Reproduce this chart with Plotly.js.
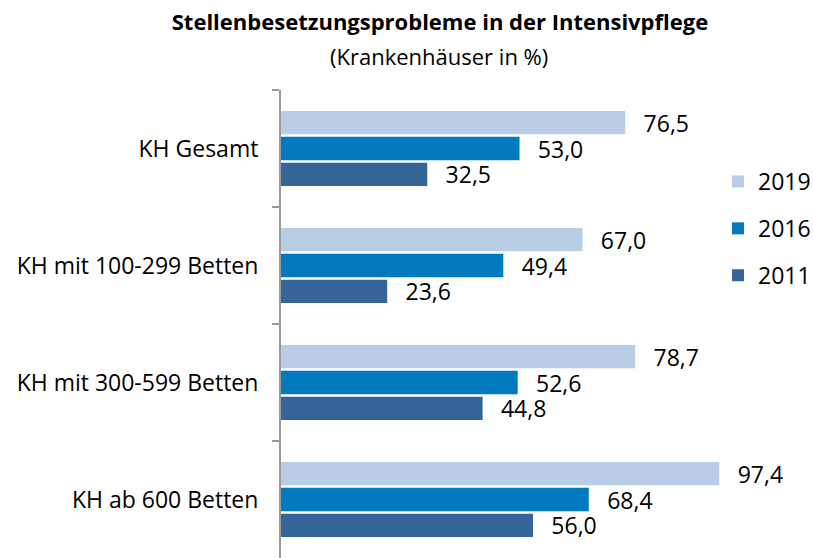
<!DOCTYPE html>
<html>
<head>
<meta charset="utf-8">
<script src="https://cdn.plot.ly/plotly-3.0.1.min.js"></script>
<style>
  html, body { margin: 0; padding: 0; background: #ffffff; }
  #chart { width: 814px; height: 558px; }
</style>
</head>
<body>
<div id="chart"></div>
<script>
// Stellenbesetzungsprobleme in der Intensivpflege (Krankenhäuser in %)
const categories = ['KH Gesamt', 'KH mit 100-299 Betten', 'KH mit 300-599 Betten', 'KH ab 600 Betten'];
const years = ['2019', '2016', '2011'];
const values2019 = [76.5, 67.0, 78.7, 97.4];
const values2016 = [53.0, 49.4, 52.6, 68.4];
const values2011 = [32.5, 23.6, 44.8, 56.0];
const colors = ['#B9CDE5', '#0079BF', '#356596'];

const font = 'Open Sans, Liberation Sans, sans-serif';

function barTrace(name, values, color) {
    return {
        type: 'bar',
        orientation: 'h',
        name: name,
        legendgroup: name,
        x: values,
        y: categories,
        marker: { color: color, line: { width: 0 } },
        texttemplate: '\u2002\u2009%{x:.1f}',
        textposition: 'outside',
        outsidetextfont: { family: font, size: 23, color: '#000000' },
        constraintext: 'none',
        cliponaxis: false,
        hoverinfo: 'x+name'
    };
}

const data = [
    barTrace(years[0], values2019, colors[0]),
    barTrace(years[1], values2016, colors[1]),
    barTrace(years[2], values2011, colors[2])
];

const layout = {
    width: 814,
    height: 558,
    margin: { l: 281, r: 83, t: 90, b: 0, autoexpand: false },
    paper_bgcolor: '#ffffff',
    plot_bgcolor: '#ffffff',
    separators: ',.',
    font: { family: font, size: 23, color: '#000000' },
    barmode: 'group',
    bargap: 0.335,
    bargroupgap: 0.1,
    title: {
        text: '<b>Stellenbesetzungsprobleme in der Intensivpflege</b>',
        font: { family: font, size: 22, color: '#000000' },
        xref: 'container',
        yref: 'container',
        x: 0.5405,
        xanchor: 'center',
        y: 0.9606,
        yanchor: 'middle'
    },
    annotations: [{
        text: '(Krankenhäuser in %)',
        xref: 'paper',
        yref: 'paper',
        x: 0.35,
        y: 1.0736,
        xanchor: 'center',
        yanchor: 'middle',
        showarrow: false,
        font: { family: font, size: 22, color: '#000000' }
    }],
    xaxis: {
        range: [0, 100],
        visible: false,
        showgrid: false,
        zeroline: false
    },
    yaxis: {
        type: 'category',
        range: [3.5, -0.5],
        showline: true,
        linecolor: '#9A9A9A',
        linewidth: 2,
        ticks: 'outside',
        tickson: 'boundaries',
        ticklen: 7,
        tickwidth: 1.5,
        tickcolor: '#9A9A9A',
        ticklabelstandoff: 16,
        tickfont: { family: font, size: 23, color: '#000000' },
        showgrid: false,
        zeroline: false
    },
    showlegend: true,
    legend: {
        xref: 'container',
        yref: 'container',
        x: 718 / 814,
        xanchor: 'left',
        y: 1 - 160 / 558,
        yanchor: 'top',
        traceorder: 'grouped',
        tracegroupgap: 14,
        font: { family: font, size: 23, color: '#000000' },
        bgcolor: 'rgba(0,0,0,0)'
    }
};

Plotly.newPlot('chart', data, layout, { displayModeBar: false, staticPlot: true });
</script>
</body>
</html>
